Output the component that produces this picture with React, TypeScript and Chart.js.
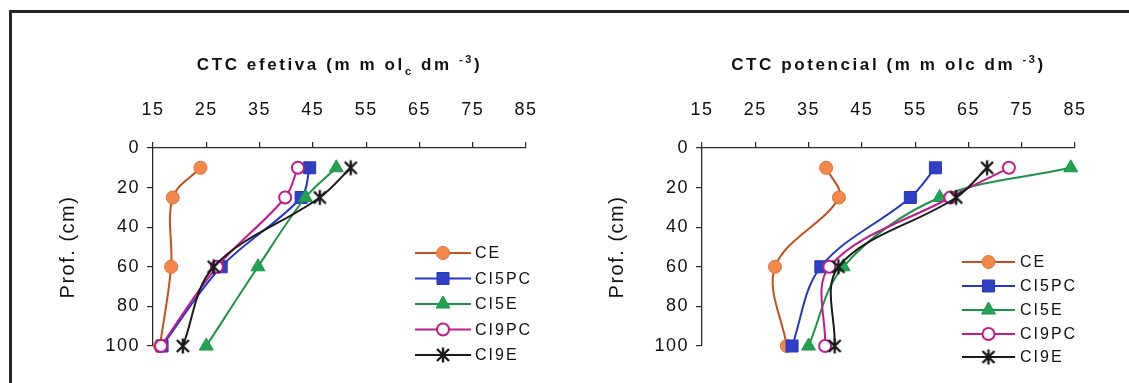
import React, { useEffect, useRef } from 'react';
import { Chart, registerables } from 'chart.js';
import { drawPoint } from 'chart.js/helpers';

Chart.register(...registerables);

// ---------------- data ----------------
const depthsCm = [10, 25, 60, 100];
const seriesLabels = ['CE', 'CI5PC', 'CI5E', 'CI9PC', 'CI9E'];

const efetivaCE = [23.9, 18.7, 18.4, 16.3];
const efetivaCI5PC = [44.4, 42.8, 27.8, 16.7];
const efetivaCI5E = [49.4, 43.6, 34.7, 25.0];
const efetivaCI9PC = [42.2, 39.8, 27.0, 16.5];
const efetivaCI9E = [52.1, 46.3, 26.4, 20.6];

const potencialCE = [38.3, 40.7, 28.7, 30.9];
const potencialCI5PC = [58.8, 54.1, 37.3, 31.9];
const potencialCI5E = [84.2, 59.6, 41.5, 35.0];
const potencialCI9PC = [72.6, 61.6, 38.9, 38.1];
const potencialCI9E = [68.5, 62.7, 40.6, 39.9];

const xTickValues = [15, 25, 35, 45, 55, 65, 75, 85];
const yTickValues = [0, 20, 40, 60, 80, 100];

const FONT = '"Liberation Sans", Arial, Helvetica, sans-serif';

// ---------------- styles ----------------
function makeAsterisk(): HTMLCanvasElement {
  const c = document.createElement('canvas');
  c.width = 18;
  c.height = 18;
  const g = c.getContext('2d')!;
  g.strokeStyle = '#1a1a1a';
  g.lineWidth = 2.4;
  g.lineCap = 'butt';
  g.beginPath();
  g.moveTo(3, 3); g.lineTo(15, 15);
  g.moveTo(15, 3); g.lineTo(3, 15);
  g.moveTo(9, 1.5); g.lineTo(9, 16.5);
  g.stroke();
  return c;
}

type SeriesStyle = {
  line: string;
  fill: string;
  stroke: string;
  pointStyle: any;
  radius: number;
  bw: number;
};

function seriesStyles(): SeriesStyle[] {
  const star = makeAsterisk();
  return [
    { line: '#c4501c', fill: '#f4884a', stroke: '#e56c30', pointStyle: 'circle', radius: 6.5, bw: 1 },
    { line: '#2636c8', fill: '#2f40c0', stroke: '#2636c8', pointStyle: 'rect', radius: 8.5, bw: 1 },
    { line: '#1b9447', fill: '#22a352', stroke: '#1b9447', pointStyle: 'triangle', radius: 8, bw: 1 },
    { line: '#c41a8c', fill: '#ffffff', stroke: '#c41a8c', pointStyle: 'circle', radius: 6, bw: 2 },
    { line: '#1a1a1a', fill: '#1a1a1a', stroke: '#1a1a1a', pointStyle: star, radius: 8, bw: 2 },
  ];
}

type Seg = { t: string; sub?: boolean; sup?: boolean };

type PanelCfg = {
  series: number[][];
  title: Seg[];
  legendX0: number;
  legendX1: number;
  legendTextX: number;
  legendYs: number[];
};

function decorPlugin(cfg: PanelCfg, styles: SeriesStyle[]) {
  return {
    id: 'decor',
    beforeDraw(chart: any) {
      (chart.ctx as any).letterSpacing = '1.5px';
    },
    afterDraw(chart: any) {
      const ctx = chart.ctx as CanvasRenderingContext2D;
      const area = chart.chartArea;
      ctx.save();
      // ---- title ----
      const base = 17;
      const small = 11;
      (ctx as any).letterSpacing = '2.6px';
      const parts = cfg.title.map((s) => {
        ctx.font = `bold ${s.sub || s.sup ? small : base}px ${FONT}`;
        return { ...s, w: ctx.measureText(s.t).width };
      });
      const total = parts.reduce((a, p) => a + p.w, 0);
      let x = (area.left + area.right) / 2 - total / 2;
      const ty = 65;
      ctx.fillStyle = '#111';
      ctx.textBaseline = 'middle';
      ctx.textAlign = 'left';
      for (const p of parts) {
        ctx.font = `bold ${p.sub || p.sup ? small : base}px ${FONT}`;
        const dy = p.sub ? 7 : p.sup ? -5 : 0;
        ctx.fillText(p.t, x, ty + dy);
        x += p.w;
      }
      // ---- legend ----
      (ctx as any).letterSpacing = '2px';
      ctx.font = `16px ${FONT}`;
      cfg.series.forEach((_, i) => {
        const st = styles[i];
        const y = cfg.legendYs[i];
        ctx.strokeStyle = st.line;
        ctx.lineWidth = 2;
        ctx.beginPath();
        ctx.moveTo(cfg.legendX0, y);
        ctx.lineTo(cfg.legendX1, y);
        ctx.stroke();
        const mx = (cfg.legendX0 + cfg.legendX1) / 2;
        ctx.fillStyle = st.fill;
        ctx.strokeStyle = st.stroke;
        ctx.lineWidth = st.bw;
        drawPoint(ctx, { pointStyle: st.pointStyle, radius: st.radius, rotation: 0, borderWidth: st.bw } as any, mx, y);
        ctx.fillStyle = '#111';
        ctx.textBaseline = 'middle';
        ctx.fillText(seriesLabels[i], cfg.legendTextX, y + 1);
      });
      ctx.restore();
    },
  };
}

function buildChart(canvas: HTMLCanvasElement, cfg: PanelCfg) {
  const styles = seriesStyles();
  const datasets = cfg.series.map((vals, i) => {
    const st = styles[i];
    return {
      label: seriesLabels[i],
      data: vals.map((v, j) => ({ x: v, y: depthsCm[j] })),
      showLine: true,
      borderColor: st.line,
      borderWidth: 2,
      backgroundColor: st.fill,
      pointBackgroundColor: st.fill,
      pointBorderColor: st.stroke,
      pointBorderWidth: st.bw,
      pointStyle: st.pointStyle,
      pointRadius: st.radius,
      tension: 0.35,
      clip: false as any,
      order: 5 - i,
    };
  });
  return new Chart(canvas, {
    type: 'scatter',
    data: { datasets },
    options: {
      animation: false,
      responsive: false,
      devicePixelRatio: 1,
      layout: { padding: { left: 0, right: 34, top: 0, bottom: 37 } },
      plugins: {
        legend: { display: false },
        tooltip: { enabled: false },
        title: { display: false },
      },
      scales: {
        x: {
          type: 'linear',
          position: 'top',
          min: 15,
          max: 85,
          afterBuildTicks: (s: any) => {
            s.ticks = xTickValues.map((v) => ({ value: v }));
          },
          afterFit: (s: any) => {
            s.height = 148;
          },
          grid: { drawOnChartArea: false, drawTicks: true, tickLength: 6, color: '#2a2a2a', lineWidth: 1.2 },
          border: { display: true, color: '#2a2a2a', width: 1.3 },
          ticks: { padding: 21, color: '#111', font: { family: FONT, size: 18 }, maxRotation: 0, autoSkip: false },
        },
        y: {
          type: 'linear',
          reverse: true,
          min: 0,
          max: 100,
          afterBuildTicks: (s: any) => {
            s.ticks = yTickValues.map((v) => ({ value: v }));
          },
          afterFit: (s: any) => {
            s.width = 153;
          },
          grid: { drawOnChartArea: false, drawTicks: true, tickLength: 6, color: '#2a2a2a', lineWidth: 1.2 },
          border: { display: true, color: '#2a2a2a', width: 1.3 },
          ticks: { padding: 7, color: '#111', font: { family: FONT, size: 18 }, autoSkip: false },
          title: {
            display: true,
            text: 'Prof. (cm)',
            color: '#111',
            font: { family: FONT, size: 20 },
            padding: { top: 56, bottom: 0 },
          },
        },
      },
    } as any,
    plugins: [decorPlugin(cfg, styles)],
  });
}

const leftPanel: PanelCfg = {
  series: [efetivaCE, efetivaCI5PC, efetivaCI5E, efetivaCI9PC, efetivaCI9E],
  title: [{ t: 'CTC efetiva (m m ol' }, { t: 'c', sub: true }, { t: ' dm ' }, { t: '-3', sup: true }, { t: ')' }],
  legendX0: 415,
  legendX1: 471,
  legendTextX: 475,
  legendYs: [253, 278.5, 304, 329.5, 355],
};

const rightPanel: PanelCfg = {
  series: [potencialCE, potencialCI5PC, potencialCI5E, potencialCI9PC, potencialCI9E],
  title: [{ t: 'CTC potencial (m m olc dm ' }, { t: '-3', sup: true }, { t: ')' }],
  legendX0: 413,
  legendX1: 466,
  legendTextX: 471,
  legendYs: [262, 286, 310, 334, 357],
};

function Panel({ cfg, left }: { cfg: PanelCfg; left: number }) {
  const ref = useRef<HTMLCanvasElement>(null);
  useEffect(() => {
    if (!ref.current) return;
    const chart = buildChart(ref.current, cfg);
    return () => chart.destroy();
  }, [cfg]);
  return (
    <canvas
      ref={ref}
      width={560}
      height={383}
      style={{ position: 'absolute', left, top: 0, width: 560, height: 383 }}
    />
  );
}

export default function App() {
  return (
    <div
      style={{
        position: 'fixed',
        left: 0,
        top: 0,
        width: 1129,
        height: 383,
        overflow: 'hidden',
        background: '#ffffff',
      }}
    >
      <div
        style={{
          position: 'absolute',
          left: 9,
          top: 10,
          width: 1200,
          height: 500,
          borderTop: '3px solid #262626',
          borderLeft: '3px solid #262626',
          boxSizing: 'border-box',
        }}
      />
      <Panel cfg={leftPanel} left={0} />
      <Panel cfg={rightPanel} left={549} />
    </div>
  );
}
